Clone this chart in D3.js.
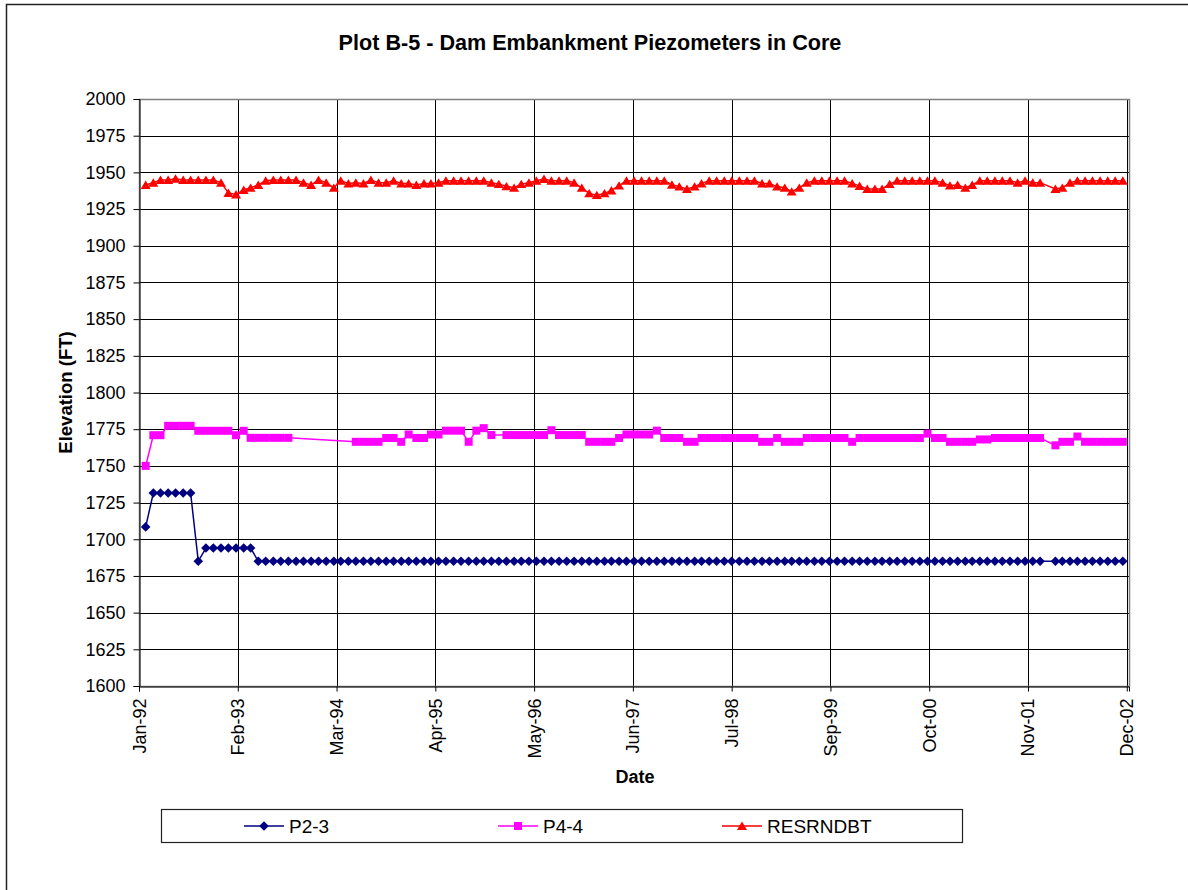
<!DOCTYPE html>
<html><head><meta charset="utf-8">
<script src="https://cdn.jsdelivr.net/npm/d3@7"></script>
<style>
body{margin:0;background:#fff}
svg{display:block}
text{font-family:"Liberation Sans",Arial,sans-serif;fill:#000}
</style>
</head><body>
<svg id="chart" width="1188" height="890"></svg>
<script>
// ---------- DATA ----------
const chartTitle = "Plot B-5 - Dam Embankment Piezometers in Core";
const yTitle = "Elevation (FT)";
const xTitle = "Date";
const seriesNames = ["P2-3", "P4-4", "RESRNDBT"];

const readingDates = [
"1992-01-28","1992-02-28","1992-03-28","1992-04-28","1992-05-28","1992-06-28","1992-07-28","1992-08-28","1992-09-28","1992-10-28","1992-11-28","1992-12-28",
"1993-01-28","1993-02-28","1993-03-28","1993-04-28","1993-05-28","1993-06-28","1993-07-28","1993-08-28","1993-09-28","1993-10-28","1993-11-28","1993-12-28",
"1994-01-28","1994-02-28","1994-03-28","1994-04-28","1994-05-28","1994-06-28","1994-07-28","1994-08-28","1994-09-28","1994-10-28","1994-11-28","1994-12-28",
"1995-01-28","1995-02-28","1995-03-28","1995-04-28","1995-05-28","1995-06-28","1995-07-28","1995-08-28","1995-09-28","1995-10-28","1995-11-28","1995-12-28",
"1996-01-28","1996-02-28","1996-03-28","1996-04-28","1996-05-28","1996-06-28","1996-07-28","1996-08-28","1996-09-28","1996-10-28","1996-11-28","1996-12-28",
"1997-01-28","1997-02-28","1997-03-28","1997-04-28","1997-05-28","1997-06-28","1997-07-28","1997-08-28","1997-09-28","1997-10-28","1997-11-28","1997-12-28",
"1998-01-28","1998-02-28","1998-03-28","1998-04-28","1998-05-28","1998-06-28","1998-07-28","1998-08-28","1998-09-28","1998-10-28","1998-11-28","1998-12-28",
"1999-01-28","1999-02-28","1999-03-28","1999-04-28","1999-05-28","1999-06-28","1999-07-28","1999-08-28","1999-09-28","1999-10-28","1999-11-28","1999-12-28",
"2000-01-28","2000-02-28","2000-03-28","2000-04-28","2000-05-28","2000-06-28","2000-07-28","2000-08-28","2000-09-28","2000-10-28","2000-11-28","2000-12-28",
"2001-01-28","2001-02-28","2001-03-28","2001-04-28","2001-05-28","2001-06-28","2001-07-28","2001-08-28","2001-09-28","2001-10-28","2001-11-28","2001-12-28",
"2002-01-28","2002-02-28","2002-03-28","2002-04-28","2002-05-28","2002-06-28","2002-07-28","2002-08-28","2002-09-28","2002-10-28","2002-11-28"
];

const p23 = [
1708.4,1731.5,1731.5,1731.5,1731.5,1731.5,1731.5,1685,1694,1694,1694,1694,
1694,1694,1694,1685,1685,1685,1685,1685,1685,1685,1685,1685,
1685,1685,1685,1685,1685,1685,1685,1685,1685,1685,1685,1685,
1685,1685,1685,1685,1685,1685,1685,1685,1685,1685,1685,1685,
1685,1685,1685,1685,1685,1685,1685,1685,1685,1685,1685,1685,
1685,1685,1685,1685,1685,1685,1685,1685,1685,1685,1685,1685,
1685,1685,1685,1685,1685,1685,1685,1685,1685,1685,1685,1685,
1685,1685,1685,1685,1685,1685,1685,1685,1685,1685,1685,1685,
1685,1685,1685,1685,1685,1685,1685,1685,1685,1685,1685,1685,
1685,1685,1685,1685,1685,1685,1685,1685,1685,1685,1685,1685,
null,1685,1685,1685,1685,1685,1685,1685,1685,1685,1685
];

const p44 = [
1750,1770.9,1770.9,1777.3,1777.3,1777.3,1777.3,1773.9,1773.9,1773.9,1773.9,1773.9,
1770.9,1773.9,1769.1,1769.1,1769.1,1769.1,1769.1,1769.1,null,null,null,null,
null,null,null,null,1766.4,1766.4,1766.4,1766.4,1769,1769,1766.4,1771.4,
1769,1769,1771.4,1771.4,1774,1774,1774,1766.4,1774,1775.7,1771,null,
1771,1771,1771,1771,1771,1771,1774.3,1771,1771,1771,1771,1766.4,
1766.4,1766.4,1766.4,1769,1771.4,1771.4,1771.4,1771.4,1774,1769,1769,1769,
1766.4,1766.4,1769,1769,1769,1769,1769,1769,1769,1769,1766.4,1766.4,
1769,1766.4,1766.4,1766.4,1769,1769,1769,1769,1769,1769,1766.4,1769,
1769,1769,1769,1769,1769,1769,1769,1769,1772,1769,1769,1766.4,
1766.4,1766.4,1766.4,1768,1768,1769,1769,1769,1769,1769,1769,1769,
null,1764,1766.4,1766.4,1770,1766.4,1766.4,1766.4,1766.4,1766.4,1766.4
];

const resrndbt = [
1941.4,1943,1944.8,1944.8,1945.7,1944.8,1944.8,1944.8,1944.8,1944.8,1943,1936,
1935,1938,1939.5,1941.4,1944.3,1944.8,1944.8,1944.8,1944.8,1943,1941.4,1944.8,
1943,1939.5,1944.3,1942.5,1943,1942.5,1944.8,1943,1943,1944.3,1942.5,1942.5,
1941.4,1942.5,1942.5,1943,1944.3,1944.3,1944.3,1944.3,1944.3,1944.3,1943,1942,
1940.5,1939.5,1942,1943,1944.3,1945.5,1944.3,1944.3,1944.3,1943,1939.5,1935.7,
1934.5,1935.7,1937.7,1941,1944.3,1944.3,1944.3,1944.3,1944.3,1944.3,1941.6,1940.3,
1938.7,1940.3,1942.5,1944.3,1944.3,1944.3,1944.3,1944.3,1944.3,1944.3,1942.5,1942.5,
1940.3,1939.5,1936.9,1939.5,1943,1944.3,1944.3,1944.3,1944.3,1944.3,1942.5,1940.8,
1938.7,1938.7,1938.7,1942,1944.3,1944.3,1944.3,1944.3,1944.3,1944.3,1943,1941,
1941.4,1939.5,1941.4,1944.3,1944.3,1944.3,1944.3,1944.3,1943,1944.3,1943,1943,
null,1938.7,1939.5,1943,1944.3,1944.3,1944.3,1944.3,1944.3,1944.3,1944.3
];

const yTickValues = [1600,1625,1650,1675,1700,1725,1750,1775,1800,1825,1850,1875,1900,1925,1950,1975,2000];
const xTickLabels = ["Jan-92","Feb-93","Mar-94","Apr-95","May-96","Jun-97","Jul-98","Sep-99","Oct-00","Nov-01","Dec-02"];
const xAxisStart = "1992-01-01";
const xTickStepDays = 400;
const xAxisSpanDays = 4009;

// ---------- LAYOUT ----------
const plot = {left: 139, right: 1129, top: 99, bottom: 686};
const colors = {"P2-3": "#000080", "P4-4": "#FF00FF", "RESRNDBT": "#FF0000"};

const parse = d3.timeParse("%Y-%m-%d");
const t0 = parse(xAxisStart);
const x = d3.scaleTime()
  .domain([t0, d3.timeDay.offset(t0, xAxisSpanDays)])
  .range([plot.left, plot.right]);
const y = d3.scaleLinear().domain([1600, 2000]).range([plot.bottom, plot.top]);

const xTickDates = xTickLabels.map((_, k) => d3.timeDay.offset(t0, k * xTickStepDays));

const svg = d3.select("#chart");

// chart outer border
svg.append("rect").attr("x", 6.5).attr("y", 4.5).attr("width", 1300).attr("height", 1000)
  .attr("fill", "#fff").attr("stroke", "#222").attr("stroke-width", 1.5);

// gridlines
const grid = svg.append("g").attr("stroke", "#000").attr("stroke-width", 1).attr("shape-rendering", "crispEdges");
yTickValues.forEach(v => {
  if (v === 1600 || v === 2000) return;
  grid.append("line").attr("x1", plot.left).attr("x2", plot.right)
    .attr("y1", Math.round(y(v)) + 0.5).attr("y2", Math.round(y(v)) + 0.5);
});
xTickDates.forEach((d, k) => {
  if (k === 0) return;
  grid.append("line").attr("y1", plot.top).attr("y2", plot.bottom)
    .attr("x1", Math.round(x(d)) + 0.5).attr("x2", Math.round(x(d)) + 0.5);
});

// plot border (gray)
svg.append("rect").attr("x", plot.left + 0.5).attr("y", plot.top + 0.5)
  .attr("width", plot.right - plot.left).attr("height", plot.bottom - plot.top)
  .attr("fill", "none").attr("stroke", "#808080").attr("stroke-width", 1.5);

// y axis
const yAxis = d3.axisLeft(y).tickValues(yTickValues).tickSize(6).tickPadding(8).tickFormat(d3.format("d"));
const gy = svg.append("g").attr("transform", `translate(${plot.left + 0.5},0)`).call(yAxis);
gy.select(".domain").attr("stroke", "#000");
gy.selectAll(".tick line").attr("stroke", "#000");
gy.selectAll(".tick text").attr("font-size", 18).attr("font-family", "'Liberation Sans',Arial,sans-serif").attr("fill", "#000");

// x axis
const xAxis = d3.axisBottom(x).tickValues(xTickDates).tickSize(5).tickFormat((d, k) => xTickLabels[k]);
const gx = svg.append("g").attr("transform", `translate(0,${plot.bottom + 0.5})`).call(xAxis);
gx.select(".domain").attr("stroke", "#000");
gx.selectAll(".tick line").attr("stroke", "#000");
gx.selectAll(".tick text")
  .attr("font-size", 18).attr("font-family", "'Liberation Sans',Arial,sans-serif").attr("fill", "#000")
  .attr("text-anchor", "end").attr("dy", null).attr("y", 0)
  .attr("transform", "translate(0,12) rotate(-90)")
  .attr("x", 0).attr("dominant-baseline", "central");

// series
const dates = readingDates.map(parse);
const seriesData = [
  {name: "P2-3", values: p23, shape: "diamond"},
  {name: "P4-4", values: p44, shape: "square"},
  {name: "RESRNDBT", values: resrndbt, shape: "triangle"}
];
const shapePath = {
  diamond: "M0,-4.8L4.8,0L0,4.8L-4.8,0Z",
  square: "M-4,-4H4V4H-4Z",
  triangle: "M0,-4.4L5,4H-5Z"
};
const line = d3.line().x(d => x(d.date)).y(d => y(d.value));

seriesData.forEach(s => {
  const pts = s.values.map((v, i) => ({date: dates[i], value: v})).filter(d => d.value !== null);
  const g = svg.append("g");
  g.append("path").datum(pts).attr("d", line).attr("fill", "none")
    .attr("stroke", colors[s.name]).attr("stroke-width", 1.5);
  g.selectAll("path.m").data(pts).join("path").attr("class", "m")
    .attr("d", shapePath[s.shape])
    .attr("transform", d => `translate(${x(d.date)},${y(d.value)})`)
    .attr("fill", colors[s.name]);
});

// titles
svg.append("text").attr("x", 590).attr("y", 50).attr("text-anchor", "middle")
  .attr("font-size", 21.6).attr("font-weight", "bold").text(chartTitle);
svg.append("text").attr("transform", `translate(72,${(plot.top + plot.bottom) / 2}) rotate(-90)`)
  .attr("text-anchor", "middle").attr("font-size", 18.5).attr("font-weight", "bold").text(yTitle);
svg.append("text").attr("x", 635).attr("y", 783).attr("text-anchor", "middle")
  .attr("font-size", 18).attr("font-weight", "bold").text(xTitle);

// legend
const leg = svg.append("g");
leg.append("rect").attr("x", 161.5).attr("y", 809.5).attr("width", 801).attr("height", 33)
  .attr("fill", "#fff").attr("stroke", "#222").attr("stroke-width", 1.2);
const legItems = [{x: 244}, {x: 498}, {x: 722}];
seriesData.forEach((s, k) => {
  const lx = legItems[k].x, ly = 826;
  leg.append("line").attr("x1", lx).attr("x2", lx + 40).attr("y1", ly).attr("y2", ly)
    .attr("stroke", colors[s.name]).attr("stroke-width", 1.5);
  leg.append("path").attr("d", shapePath[s.shape]).attr("transform", `translate(${lx + 20},${ly})`)
    .attr("fill", colors[s.name]);
  leg.append("text").attr("x", lx + 45).attr("y", ly).attr("dominant-baseline", "central")
    .attr("font-size", 19).text(s.name);
});
</script>
</body></html>
